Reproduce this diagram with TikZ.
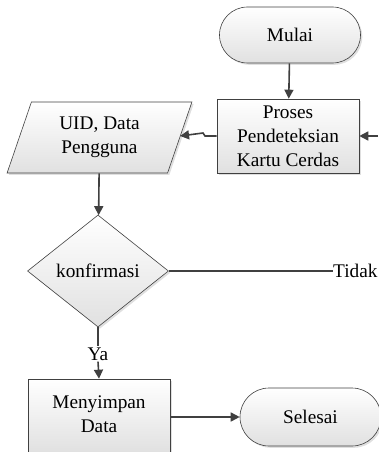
\documentclass[tikz,border=0pt]{standalone}
\usepackage{fontspec}
\setmainfont{Liberation Serif}
\usetikzlibrary{shapes.geometric,shapes.misc,arrows.meta,shadows}
\begin{document}
\begin{tikzpicture}[x=1pt,y=-1pt,
  font=\fontsize{19.3}{24}\selectfont,
  base/.style={draw=black!75, line width=0.6pt, top color=white, bottom color=black!12,
    drop shadow={opacity=0.25, shadow xshift=1.8pt, shadow yshift=-1.8pt},
    align=center, inner sep=0pt},
  term/.style={base, rounded rectangle, minimum width=141pt, minimum height=56pt},
  procbox/.style={base, rectangle, minimum width=142pt, minimum height=74pt},
  iobox/.style={base, trapezium, trapezium left angle=70.6, trapezium right angle=109.4,
    trapezium stretches=true, minimum width=185pt, minimum height=71pt},
  decision/.style={base, diamond, minimum width=141pt, minimum height=112pt},
  conn/.style={draw=black!75, line width=1.6pt},
  arr/.style={conn, -{Triangle[length=9pt,width=9pt]}}]
\useasboundingbox (0,0) rectangle (378,452);
\node[term] (mulai) at (290,35) {Mulai};
\node[procbox] (proses) at (288,136) {Proses\\Pendeteksian\\Kartu Cerdas};
\node[iobox] (uid) at (99.5,137.5) {UID, Data\\Pengguna};
\node[decision] (konf) at (98,271) {konfirmasi};
\node[anchor=west, inner sep=0pt] (tidak) at (333,271) {Tidak};
\node[inner sep=1pt] (ya) at (98,354) {Ya};
\node[procbox] (simpan) at (99,416) {\raisebox{5pt}{\begin{tabular}{@{}c@{}}Menyimpan\\Data\end{tabular}}};
\node[term, minimum height=58pt] (selesai) at (310.5,417) {Selesai};
\coordinate (inR) at (378,136);
\coordinate (jog) at (205,136);
\draw[arr] (mulai) -- (proses);
\draw[arr] (inR) -- (proses.east);
\draw[arr] (proses.west) -- (jog) -- ([xshift=-2pt,yshift=3pt]jog) -- ([yshift=1.5pt]uid.east);
\draw[arr] (uid) -- (konf);
\draw[conn, line width=1.2pt] (konf.east) -- (tidak.west);
\draw[conn] (konf.south) -- (ya.north);
\draw[arr] (ya.south) -- (simpan.north);
\draw[arr] (simpan.east |- selesai.west) -- (selesai.west);
\end{tikzpicture}
\end{document}
